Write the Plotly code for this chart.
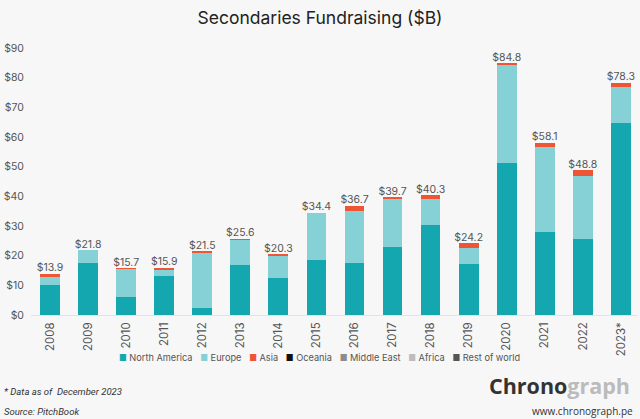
import plotly.graph_objects as go

years = ["2008", "2009", "2010", "2011", "2012", "2013", "2014", "2015",
         "2016", "2017", "2018", "2019", "2020", "2021", "2022", "2023*"]
north_america = [10.1, 17.4, 6.2, 13.2, 2.2, 16.7, 12.4, 18.4, 17.4, 22.8, 30.4, 17.1, 51.3, 28.0, 25.7, 64.7]
europe = [2.8, 4.4, 9.4, 2.2, 18.9, 8.7, 7.5, 16.0, 17.8, 16.6, 8.8, 5.6, 33.1, 28.7, 21.3, 12.1]
asia = [1.0, 0.0, 0.1, 0.5, 0.4, 0.2, 0.4, 0.0, 1.5, 0.3, 1.1, 1.5, 0.4, 1.4, 1.8, 1.5]
oceania = [0] * 16
middle_east = [0] * 16
africa = [0] * 16
rest_of_world = [0] * 16
totals = [13.9, 21.8, 15.7, 15.9, 21.5, 25.6, 20.3, 34.4, 36.7, 39.7, 40.3, 24.2, 84.8, 58.1, 48.8, 78.3]
y_ticks = [0, 10, 20, 30, 40, 50, 60, 70, 80, 90]

series = [
    ("North America", north_america, "#15A7B0"),
    ("Europe", europe, "#86D1D6"),
    ("Asia", asia, "#EE5535"),
    ("Oceania", oceania, "#111111"),
    ("Middle East", middle_east, "#8C8C8C"),
    ("Africa", africa, "#BDBDBD"),
    ("Rest of world", rest_of_world, "#555555"),
]

FONT = "Inter, Roboto, Arial, sans-serif"
fig = go.Figure()
for name, vals, col in series:
    fig.add_trace(go.Bar(x=years, y=vals, name=name, marker_color=col,
                         marker_line_width=0, showlegend=False))

fig.add_trace(go.Scatter(x=years, y=totals, mode="text",
                         text=[f"${v:.1f}" for v in totals],
                         textposition="top center",
                         textfont=dict(size=10.5, color="#555555", family=FONT),
                         showlegend=False, cliponaxis=False, hoverinfo="skip"))

fig.update_layout(
    width=640, height=419,
    barmode="stack", bargap=0.48,
    paper_bgcolor="#F7F7F7", plot_bgcolor="#F7F7F7",
    margin=dict(l=31, r=2, t=48, b=104),
    font=dict(family=FONT, color="#555555", size=10),
    title=dict(text="Secondaries Fundraising ($B)", x=0.5, xanchor="center",
               y=0.957, yanchor="middle",
               font=dict(size=17.5, color="#222222", family=FONT)),
    showlegend=False,
    xaxis=dict(type="category", tickangle=-90, showgrid=False, showline=False,
               ticks="", tickfont=dict(size=11.5, color="#555555"), range=[-0.5, 15.45],
               ticklabelstandoff=4),
    yaxis=dict(range=[0, 90], tickvals=y_ticks, ticktext=[f"${v}" for v in y_ticks],
               showgrid=False, zeroline=True, zerolinecolor="#E2E2E2", zerolinewidth=1,
               tickfont=dict(size=10.5, color="#555555"), ticklabelstandoff=6),
)

# legend row built from the series names/colours
nb = "\u00a0"
legend_parts = []
for name, _, col in series:
    legend_parts.append(f"<span style='color:{col};font-size:8.5px'>■</span>{nb}{name}")
legend_text = (nb * 3).join(legend_parts)
fig.add_annotation(text=legend_text, xref="paper", yref="paper", x=0.476, y=-0.16,
                   xanchor="center", yanchor="middle", showarrow=False,
                   font=dict(size=9.2, color="#555555", family=FONT))

fig.add_annotation(text="<i>* Data as of  December 2023</i>", xref="paper", yref="paper",
                   x=-0.047, y=-0.288, xanchor="left", yanchor="middle", showarrow=False,
                   font=dict(size=9.5, color="#333333", family="Roboto, sans-serif"))
fig.add_annotation(text="<i>Source: PitchBook</i>", xref="paper", yref="paper",
                   x=-0.047, y=-0.36, xanchor="left", yanchor="middle", showarrow=False,
                   font=dict(size=9.5, color="#333333", family="Roboto, sans-serif"))
fig.add_annotation(text="<b><span style='color:#333333'>Chrono</span><span style='color:#BBBBBB'>graph</span></b>",
                   xref="paper", yref="paper", x=0.99, y=-0.265, xanchor="right", yanchor="middle",
                   showarrow=False, font=dict(size=21.5, family="Open Sans, sans-serif"))
fig.add_annotation(text="www.chronograph.pe", xref="paper", yref="paper",
                   x=0.995, y=-0.36, xanchor="right", yanchor="middle", showarrow=False,
                   font=dict(size=10, color="#333333", family="Open Sans, sans-serif"))

fig.write_html("out.html", config={"displayModeBar": False},
               post_script="document.body.style.margin='0';document.body.style.overflow='hidden';")
